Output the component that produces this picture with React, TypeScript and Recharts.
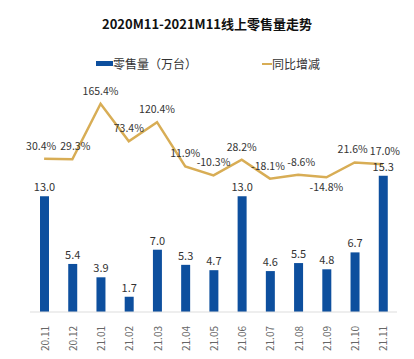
import {
  ComposedChart,
  Bar,
  Line,
  XAxis,
  YAxis,
  Legend,
  LabelList,
} from "recharts";

const months = [
  "20.11", "20.12", "21.01", "21.02", "21.03", "21.04", "21.05",
  "21.06", "21.07", "21.08", "21.09", "21.10", "21.11",
];
const sales = [13.0, 5.4, 3.9, 1.7, 7.0, 5.3, 4.7, 13.0, 4.6, 5.5, 4.8, 6.7, 15.3];
const yoy = [30.4, 29.3, 165.4, 73.4, 120.4, 11.9, -10.3, 28.2, -18.1, -8.6, -14.8, 21.6, 17.0];

const data = months.map((m, i) => ({ month: m, sales: sales[i], yoy: yoy[i] }));

const FONT = '"Noto Sans CJK SC", "Noto Sans", sans-serif';
const BLUE = "#0d4f9e";
const GOLD = "#d8ad55";

// rotated month labels, reading bottom to top
const MonthTick = (props: any) => {
  const { x, y, payload } = props;
  return (
    <text
      x={0}
      y={0}
      transform={`translate(${x},${y + 6}) rotate(-90)`}
      textAnchor="end"
      dominantBaseline="central"
      fontSize={10}
      fill="#666"
      fontFamily={FONT}
    >
      {payload.value}
    </text>
  );
};

// small nudges so neighbouring labels don't collide
const labelShift: Record<number, number> = { 0: -3, 1: 3, 8: -2, 9: 3, 11: -2, 12: 2 };

// -14.8% sits under its point, the rest above
const YoyLabel = (props: any) => {
  const { x, y, value, index } = props;
  const below = index === 10;
  const dx = labelShift[index] ?? 0;
  return (
    <text
      x={x + dx}
      y={below ? y + 14 : y - 9}
      textAnchor="middle"
      fontSize={10.5}
      fill="#333"
      fontFamily={FONT}
    >
      {`${value.toFixed(1)}%`}
    </text>
  );
};

const TopLegend = () => (
  <div
    style={{
      fontFamily: FONT,
      fontSize: 12,
      color: "#333",
      position: "relative",
      height: 16,
    }}
  >
    <div style={{ position: "absolute", left: 96, top: 0, display: "flex", alignItems: "center" }}>
      <span style={{ width: 17, height: 5, background: BLUE, display: "inline-block" }} />
      <span>零售量（万台）</span>
    </div>
    <div style={{ position: "absolute", left: 262, top: 0, display: "flex", alignItems: "center" }}>
      <span style={{ width: 10, height: 2, background: GOLD, display: "inline-block" }} />
      <span>同比增减</span>
    </div>
  </div>
);

export default function App() {
  return (
    <div style={{ position: "absolute", left: 0, top: 0, width: 414, height: 359, background: "#fff" }}>
      <div
        style={{
          position: "absolute",
          top: 14,
          left: 0,
          width: 414,
          textAlign: "center",
          fontFamily: FONT,
          fontWeight: 700,
          fontSize: 13,
          color: "#111",
        }}
      >
        2020M11-2021M11线上零售量走势
      </div>
      <ComposedChart
        width={414}
        height={359}
        data={data}
        margin={{ top: 70, right: 17, left: 30, bottom: 0 }}
      >
        <XAxis
          dataKey="month"
          height={47}
          tick={<MonthTick />}
          tickLine={false}
          axisLine={{ stroke: "#ddd" }}
          interval={0}
        />
        <YAxis yAxisId="left" hide domain={[0, 25.4]} />
        <YAxis yAxisId="right" hide domain={[-345, 209]} orientation="right" />
        <Legend
          verticalAlign="top"
          content={<TopLegend />}
          wrapperStyle={{ top: 55, left: 0, width: 414 }}
        />
        <Bar
          yAxisId="left"
          dataKey="sales"
          name="零售量（万台）"
          fill={BLUE}
          barSize={9}
          isAnimationActive={false}
        >
          <LabelList
            dataKey="sales"
            position="top"
            offset={5}
            formatter={(v: any) => Number(v).toFixed(1)}
            style={{ fontSize: 11, fill: "#333", fontFamily: FONT }}
          />
        </Bar>
        <Line
          yAxisId="right"
          dataKey="yoy"
          name="同比增减"
          stroke={GOLD}
          strokeWidth={2.5}
          dot={false}
          type="linear"
          isAnimationActive={false}
        >
          <LabelList dataKey="yoy" content={<YoyLabel />} />
        </Line>
      </ComposedChart>
    </div>
  );
}
